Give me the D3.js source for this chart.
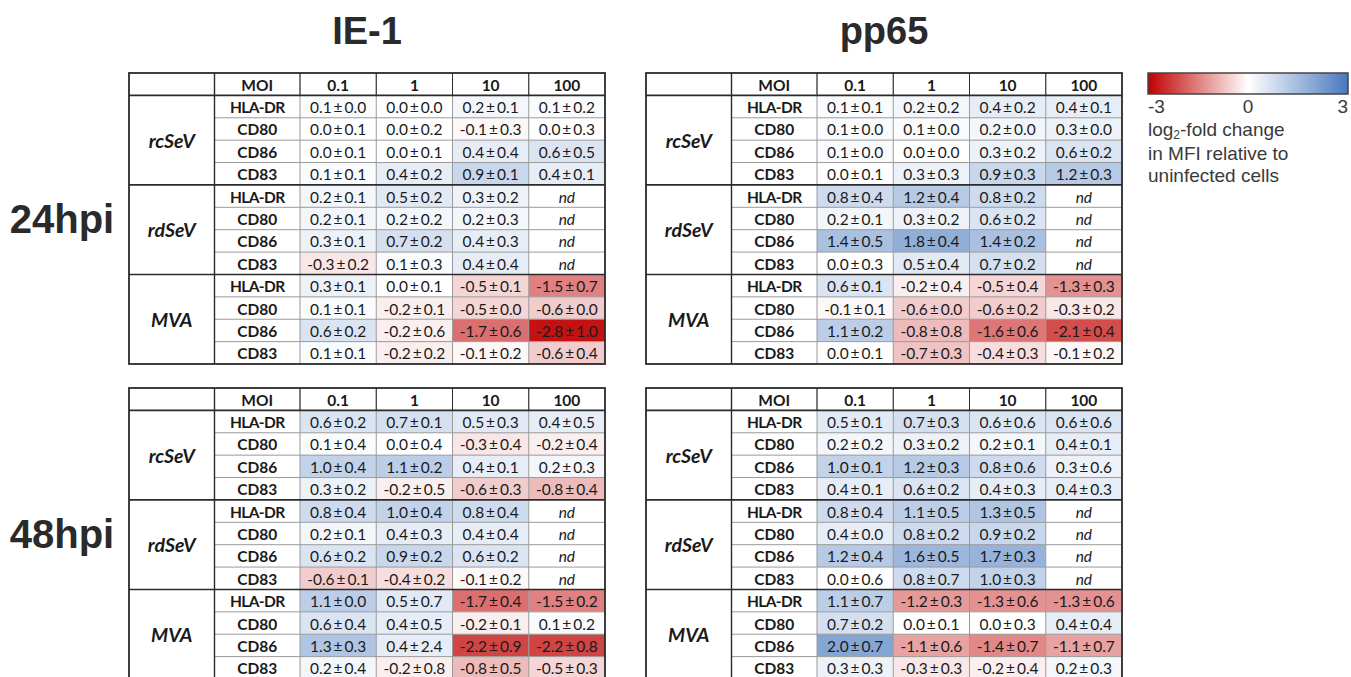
<!DOCTYPE html>
<html><head><meta charset="utf-8">
<script src="https://cdn.jsdelivr.net/npm/d3@7"></script>
<style>body{margin:0;background:#fff}svg{display:block}</style>
</head><body>
<script>
// ---------- DATA ----------
const groups = ["rcSeV", "rdSeV", "MVA"];
const markers = ["HLA-DR", "CD80", "CD86", "CD83"];
const mois = ["0.1", "1", "10", "100"];
const antigens = ["IE-1", "pp65"];
const timepoints = ["24hpi", "48hpi"];
const legendTicks = [-3, 0, 3];
const nd = null;

// rows: rcSeV(HLA-DR,CD80,CD86,CD83), rdSeV(...), MVA(...); columns: MOI 0.1,1,10,100
const ie1_24_mean = [
  [0.1, 0.0, 0.2, 0.1], [0.0, 0.0, -0.1, 0.0], [0.0, 0.0, 0.4, 0.6], [0.1, 0.4, 0.9, 0.4],
  [0.2, 0.5, 0.3, nd], [0.2, 0.2, 0.2, nd], [0.3, 0.7, 0.4, nd], [-0.3, 0.1, 0.4, nd],
  [0.3, 0.0, -0.5, -1.5], [0.1, -0.2, -0.5, -0.6], [0.6, -0.2, -1.7, -2.8], [0.1, -0.2, -0.1, -0.6]];
const ie1_24_sd = [
  [0.0, 0.0, 0.1, 0.2], [0.1, 0.2, 0.3, 0.3], [0.1, 0.1, 0.4, 0.5], [0.1, 0.2, 0.1, 0.1],
  [0.1, 0.2, 0.2, nd], [0.1, 0.2, 0.3, nd], [0.1, 0.2, 0.3, nd], [0.2, 0.3, 0.4, nd],
  [0.1, 0.1, 0.1, 0.7], [0.1, 0.1, 0.0, 0.0], [0.2, 0.6, 0.6, 1.0], [0.1, 0.2, 0.2, 0.4]];
const pp65_24_mean = [
  [0.1, 0.2, 0.4, 0.4], [0.1, 0.1, 0.2, 0.3], [0.1, 0.0, 0.3, 0.6], [0.0, 0.3, 0.9, 1.2],
  [0.8, 1.2, 0.8, nd], [0.2, 0.3, 0.6, nd], [1.4, 1.8, 1.4, nd], [0.0, 0.5, 0.7, nd],
  [0.6, -0.2, -0.5, -1.3], [-0.1, -0.6, -0.6, -0.3], [1.1, -0.8, -1.6, -2.1], [0.0, -0.7, -0.4, -0.1]];
const pp65_24_sd = [
  [0.1, 0.2, 0.2, 0.1], [0.0, 0.0, 0.0, 0.0], [0.0, 0.0, 0.2, 0.2], [0.1, 0.3, 0.3, 0.3],
  [0.4, 0.4, 0.2, nd], [0.1, 0.2, 0.2, nd], [0.5, 0.4, 0.2, nd], [0.3, 0.4, 0.2, nd],
  [0.1, 0.4, 0.4, 0.3], [0.1, 0.0, 0.2, 0.2], [0.2, 0.8, 0.6, 0.4], [0.1, 0.3, 0.3, 0.2]];
const ie1_48_mean = [
  [0.6, 0.7, 0.5, 0.4], [0.1, 0.0, -0.3, -0.2], [1.0, 1.1, 0.4, 0.2], [0.3, -0.2, -0.6, -0.8],
  [0.8, 1.0, 0.8, nd], [0.2, 0.4, 0.4, nd], [0.6, 0.9, 0.6, nd], [-0.6, -0.4, -0.1, nd],
  [1.1, 0.5, -1.7, -1.5], [0.6, 0.4, -0.2, 0.1], [1.3, 0.4, -2.2, -2.2], [0.2, -0.2, -0.8, -0.5]];
const ie1_48_sd = [
  [0.2, 0.1, 0.3, 0.5], [0.4, 0.4, 0.4, 0.4], [0.4, 0.2, 0.1, 0.3], [0.2, 0.5, 0.3, 0.4],
  [0.4, 0.4, 0.4, nd], [0.1, 0.3, 0.4, nd], [0.2, 0.2, 0.2, nd], [0.1, 0.2, 0.2, nd],
  [0.0, 0.7, 0.4, 0.2], [0.4, 0.5, 0.1, 0.2], [0.3, 2.4, 0.9, 0.8], [0.4, 0.8, 0.5, 0.3]];
const pp65_48_mean = [
  [0.5, 0.7, 0.6, 0.6], [0.2, 0.3, 0.2, 0.4], [1.0, 1.2, 0.8, 0.3], [0.4, 0.6, 0.4, 0.4],
  [0.8, 1.1, 1.3, nd], [0.4, 0.8, 0.9, nd], [1.2, 1.6, 1.7, nd], [0.0, 0.8, 1.0, nd],
  [1.1, -1.2, -1.3, -1.3], [0.7, 0.0, 0.0, 0.4], [2.0, -1.1, -1.4, -1.1], [0.3, -0.3, -0.2, 0.2]];
const pp65_48_sd = [
  [0.1, 0.3, 0.6, 0.6], [0.2, 0.2, 0.1, 0.1], [0.1, 0.3, 0.6, 0.6], [0.1, 0.2, 0.3, 0.3],
  [0.4, 0.5, 0.5, nd], [0.0, 0.2, 0.2, nd], [0.4, 0.5, 0.3, nd], [0.6, 0.7, 0.3, nd],
  [0.7, 0.3, 0.6, 0.6], [0.2, 0.1, 0.3, 0.4], [0.7, 0.6, 0.7, 0.7], [0.3, 0.3, 0.4, 0.3]];

const tables = [
  {antigen: "IE-1", time: "24hpi", mean: ie1_24_mean, sd: ie1_24_sd},
  {antigen: "pp65", time: "24hpi", mean: pp65_24_mean, sd: pp65_24_sd},
  {antigen: "IE-1", time: "48hpi", mean: ie1_48_mean, sd: ie1_48_sd},
  {antigen: "pp65", time: "48hpi", mean: pp65_48_mean, sd: pp65_48_sd}];

// ---------- LAYOUT ----------
const W = 1351, H = 677;
const panelX = d3.scaleOrdinal().domain(antigens).range([129, 646]);
const panelY = d3.scaleOrdinal().domain(timepoints).range([73, 388]);
const labelColW = 85.5, tableW = 476, tableH = 291;
const TXT = "Lato, 'Noto Sans', sans-serif";
const ARIAL = "'Liberation Sans', Arial, sans-serif";
const heavy = "#2b2b2b", light = "#9a9a9a";
const valSize = 15.5, lblSize = 15.5;

const color = d3.scaleLinear().domain([-3, 0, 3])
  .range(["#c00000", "#ffffff", "#4878be"]).interpolate(d3.interpolateRgb).clamp(true);

const svg = d3.select("body").append("svg").attr("width", W).attr("height", H);
svg.append("rect").attr("width", W).attr("height", H).attr("fill", "#fff");

const rowNames = [];
groups.forEach(g => markers.forEach(m => rowNames.push(g + "|" + m)));

function fmt(v) { return v.toFixed(1); }

tables.forEach(t => {
  const x0 = panelX(t.antigen), y0 = panelY(t.time);
  const g = svg.append("g");
  const y = d3.scaleBand().domain(["header", ...rowNames]).range([y0, y0 + tableH]);
  const x = d3.scaleBand().domain(mois).range([x0 + 2 * labelColW, x0 + tableW]);
  const bh = y.bandwidth(), bw = x.bandwidth();
  const xG = x0, xM = x0 + labelColW;

  // cells
  const cells = [];
  rowNames.forEach((rn, i) => mois.forEach((mo, j) =>
    cells.push({rn, mo, m: t.mean[i][j], s: t.sd[i][j]})));
  g.selectAll("rect.cell").data(cells).join("rect").attr("class", "cell")
    .attr("x", d => x(d.mo)).attr("y", d => y(d.rn))
    .attr("width", bw).attr("height", bh)
    .attr("fill", d => d.m === null ? "#fff" : color(d.m));

  g.selectAll("text.val").data(cells).join("text").attr("class", "val")
    .attr("x", d => x(d.mo) + bw / 2).attr("y", d => y(d.rn) + bh / 2 + 0.5)
    .attr("text-anchor", "middle").attr("dominant-baseline", "central")
    .attr("font-family", TXT).attr("font-size", valSize).attr("fill", "#1a1a1a")
    .attr("font-style", d => d.m === null ? "italic" : "normal")
    .text(d => d.m === null ? "nd" : fmt(d.m) + "\u2009\u00b1\u2009" + fmt(d.s));

  // header
  g.append("text").attr("x", xM + labelColW / 2).attr("y", y("header") + bh / 2 + 0.5)
    .attr("text-anchor", "middle").attr("dominant-baseline", "central")
    .attr("font-family", TXT).attr("font-weight", "bold").attr("font-size", lblSize)
    .attr("fill", "#1a1a1a").text("MOI");
  g.selectAll("text.moi").data(mois).join("text").attr("class", "moi")
    .attr("x", d => x(d) + bw / 2).attr("y", y("header") + bh / 2 + 0.5)
    .attr("text-anchor", "middle").attr("dominant-baseline", "central")
    .attr("font-family", TXT).attr("font-weight", "bold").attr("font-size", lblSize)
    .attr("fill", "#1a1a1a").text(d => d);

  // marker labels
  g.selectAll("text.mk").data(rowNames).join("text").attr("class", "mk")
    .attr("x", xM + labelColW / 2).attr("y", d => y(d) + bh / 2 + 0.5)
    .attr("text-anchor", "middle").attr("dominant-baseline", "central")
    .attr("font-family", TXT).attr("font-weight", "bold").attr("font-size", lblSize)
    .attr("letter-spacing", d => d.endsWith("HLA-DR") ? "-0.6" : "0")
    .attr("fill", "#1a1a1a").text(d => d.split("|")[1]);

  // group labels
  g.selectAll("text.grp").data(groups).join("text").attr("class", "grp")
    .attr("x", xG + labelColW / 2)
    .attr("y", d => (y(d + "|" + markers[0]) + y(d + "|" + markers[3]) + bh) / 2)
    .attr("text-anchor", "middle").attr("dominant-baseline", "central")
    .attr("font-family", TXT).attr("font-weight", "bold").attr("font-style", "italic")
    .attr("font-size", 19.5).attr("fill", "#1a1a1a").text(d => d);

  // thin lines: row separators inside groups (marker + values)
  const thinRows = rowNames.filter((rn, i) => i % 4 !== 0);
  g.selectAll("line.hr").data(thinRows).join("line").attr("class", "hr")
    .attr("x1", xM).attr("x2", x0 + tableW)
    .attr("y1", d => y(d)).attr("y2", d => y(d))
    .attr("stroke", light).attr("stroke-width", 1);
  // thin vertical lines between value columns and marker column
  g.selectAll("line.vr").data(mois).join("line").attr("class", "vr")
    .attr("x1", d => x(d)).attr("x2", d => x(d))
    .attr("y1", y0).attr("y2", y0 + tableH)
    .attr("stroke", light).attr("stroke-width", 1);
  // header verticals darker
  g.selectAll("line.hv").data(mois).join("line").attr("class", "hv")
    .attr("x1", d => x(d)).attr("x2", d => x(d))
    .attr("y1", y0).attr("y2", y0 + bh)
    .attr("stroke", heavy).attr("stroke-width", 1);
  // heavy lines: header bottom and group separators
  const heavyRows = ["header", ...groups.slice(1).map(gg => gg + "|" + markers[0])];
  g.selectAll("line.hh").data(heavyRows).join("line").attr("class", "hh")
    .attr("x1", x0).attr("x2", x0 + tableW)
    .attr("y1", d => d === "header" ? y(d) + bh : y(d))
    .attr("y2", d => d === "header" ? y(d) + bh : y(d))
    .attr("stroke", heavy).attr("stroke-width", 1.6);
  // group/marker vertical
  g.append("line").attr("x1", xM).attr("x2", xM).attr("y1", y0).attr("y2", y0 + tableH)
    .attr("stroke", heavy).attr("stroke-width", 1.4);
  // outer border
  g.append("rect").attr("x", x0).attr("y", y0).attr("width", tableW).attr("height", tableH)
    .attr("fill", "none").attr("stroke", heavy).attr("stroke-width", 1.8);
});

// titles
svg.selectAll("text.title").data(antigens).join("text").attr("class", "title")
  .attr("x", d => panelX(d) + tableW / 2).attr("y", 44)
  .attr("text-anchor", "middle").attr("font-family", ARIAL).attr("font-weight", "bold")
  .attr("font-size", 38).attr("fill", "#2a2a2a").text(d => d);

// time labels
svg.selectAll("text.time").data(timepoints).join("text").attr("class", "time")
  .attr("x", 62).attr("y", d => panelY(d) + tableH / 2)
  .attr("text-anchor", "middle").attr("dominant-baseline", "central")
  .attr("font-family", ARIAL).attr("font-weight", "bold")
  .attr("font-size", 40).attr("fill", "#2a2a2a").text(d => d);

// legend
const lx = d3.scaleLinear().domain([-3, 3]).range([1148, 1348]);
const defs = svg.append("defs");
const grad = defs.append("linearGradient").attr("id", "lg");
d3.range(-3, 3.01, 0.5).forEach(v => grad.append("stop")
  .attr("offset", ((v + 3) / 6 * 100) + "%").attr("stop-color", color(v)));
svg.append("rect").attr("x", lx(-3)).attr("y", 73).attr("width", lx(3) - lx(-3)).attr("height", 21)
  .attr("fill", "url(#lg)").attr("stroke", "#444").attr("stroke-width", 1.5);
const LS = 19;
svg.selectAll("text.lt").data(legendTicks).join("text").attr("class", "lt")
  .attr("x", d => lx(d)).attr("y", 113)
  .attr("text-anchor", d => d < 0 ? "start" : d > 0 ? "end" : "middle")
  .attr("font-family", ARIAL).attr("font-size", LS).attr("fill", "#3a3a3a")
  .text(d => d);
const lt = svg.append("text").attr("font-family", ARIAL).attr("font-size", LS).attr("fill", "#3a3a3a");
lt.append("tspan").attr("x", 1148).attr("y", 136).text("log");
lt.append("tspan").attr("font-size", 12).attr("dy", 3).text("2");
lt.append("tspan").attr("dy", -3).text("-fold change");
svg.append("text").attr("x", 1148).attr("y", 159.5).attr("font-family", ARIAL).attr("font-size", LS)
  .attr("fill", "#3a3a3a").text("in MFI relative to");
svg.append("text").attr("x", 1148).attr("y", 182).attr("font-family", ARIAL).attr("font-size", LS)
  .attr("fill", "#3a3a3a").text("uninfected cells");
</script>
</body></html>
